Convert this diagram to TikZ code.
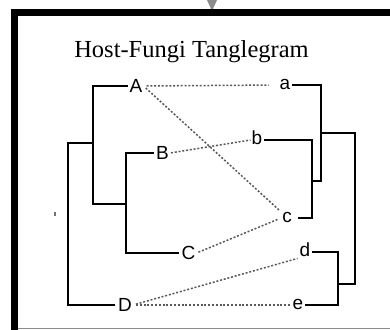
\documentclass[tikz,border=0pt]{standalone}
\usepackage{fontspec}
\setmainfont{Liberation Serif}
\newfontfamily\labfam{Liberation Sans}
\newcommand{\labfont}{\labfam\fontsize{19}{19}\selectfont}
\newcommand{\titfont}{\rmfamily\fontsize{24.5}{26}\selectfont}
\begin{document}
\begin{tikzpicture}[x=1pt,y=-1pt,
  up/.style={font=\labfont, inner sep=1pt, text height=13.6pt, text depth=0pt},
  lo/.style={font=\labfont, inner sep=1pt, text height=9.9pt, text depth=0pt},
  br/.style={line width=2.5pt, black},
  tie/.style={draw=black!65, line width=1.5pt, dash pattern=on 2pt off 1.8pt},
  framebar/.style={line width=7pt, black}]
\useasboundingbox (0,0) rectangle (390,329);
% frame
\fill[black!45] (207,0) -- (217,0) -- (212,11) -- cycle;
\draw[framebar] (11,13) -- (400,13);
\draw[framebar] (14.5,9.5) -- (14.5,340);
\draw[black!45, line width=1pt] (18,328) -- (395,328);
\fill[black!55] (53.5,211.5) rectangle (55.5,215.5);
% title
\node[font=\titfont, anchor=base, inner sep=0pt] (title) at (191.5,57.5) {Host-Fungi Tanglegram};
% host labels
\node[up] (A) at (136,86) {A};
\node[up] (B) at (162.5,153) {B};
\node[up] (C) at (188.5,253) {C};
\node[up] (D) at (125,305) {D};
% fungi labels
\node[lo] (a) at (285,85) {a};
\node[lo] (b) at (257,140) {b};
\node[lo] (c) at (287,218) {c};
\node[lo] (d) at (305,252) {d};
\node[lo] (e) at (298,305) {e};
% internal nodes
\coordinate (L1) at (93,143);
\coordinate (L2) at (126,204);
\coordinate (L0) at (68,224);
\coordinate (R1) at (321,133);
\coordinate (R2) at (312,181);
\coordinate (R3) at (338,284);
\coordinate (R0) at (355,210);
% host tree
\draw[br] ([xshift=-0.5pt]A.west) -| (L1) |- (L2);
\draw[br] ([xshift=-1pt]B.west) -| (L2) |- ([xshift=-1pt]C.west);
\draw[br] (L1) -| (L0) |- ([xshift=-2pt]D.west);
% fungi tree
\draw[br] ([xshift=0.5pt]a.east) -| (R1) |- (R2);
\draw[br] ([xshift=1pt]b.east) -| (R2) |- ([xshift=5pt]c.east);
\draw[br] ([xshift=0.5pt]d.east) -| (R3) |- ([xshift=0.5pt]e.east);
\draw[br] (R1) -| (R0) |- (R3);
% associations
\draw[tie, shorten <=3pt, shorten >=10pt] (A.east) -- (a.west);
\draw[tie, shorten <=3pt, shorten >=2pt] (A.east) -- (c.north west);
\draw[tie, shorten <=1pt] (B.east) -- (b.west);
\draw[tie, shorten <=2pt, shorten >=3pt] (C.east) -- (c.west);
\draw[tie, shorten <=3pt, shorten >=1pt] (D.east) -- (d.south west);
\draw[tie, shorten <=3pt, shorten >=2pt] (D.east) -- (e.west);
\end{tikzpicture}
\end{document}
